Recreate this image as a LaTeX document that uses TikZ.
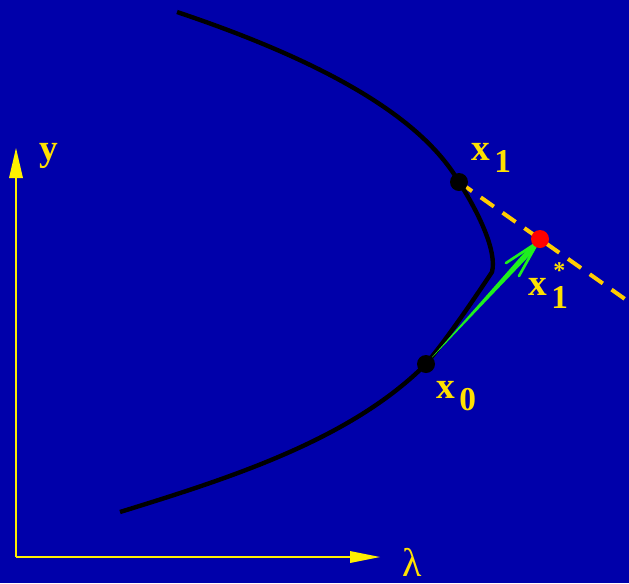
\documentclass[tikz,border=0pt]{standalone}
\usepackage{fontspec}
\setmainfont{Liberation Serif}
\definecolor{bg}{RGB}{0,0,170}
\definecolor{lab}{RGB}{255,225,0}
\definecolor{axiscol}{RGB}{255,240,0}
\definecolor{dashcol}{RGB}{255,204,0}
\definecolor{grn}{RGB}{30,240,30}
\tikzset{
  lbl/.style={text=lab,font=\bfseries\fontsize{28}{32}\selectfont,inner sep=0pt,anchor=base west},
  sublbl/.style={lbl,font=\bfseries\fontsize{25}{30}\selectfont},
  curve/.style={line width=3.3pt,black},
  dot/.style={circle,fill=black,minimum size=13.5pt,inner sep=0pt},
  axisline/.style={axiscol,line width=0.8pt},
}
\begin{document}
\begin{tikzpicture}[x=0.75pt,y=-0.75pt]
\useasboundingbox (0,0) rectangle (629,583);
\fill[bg] (0,0) rectangle (629,583);
% axes
\coordinate (O) at (16,557);
\coordinate (ytip) at (16,148);
\coordinate (ltip) at (380,557);
\draw[axisline] (O) -- (16,176);
\draw[axisline] (O) -- (352,557);
\fill[axiscol] (ytip) -- (9,178) -- (23,178) -- cycle;
\fill[axiscol] (ltip) -- (350,551) -- (350,563) -- cycle;
\node[lbl] (ylab) at (39,160) {y};
\node[text=lab,font=\fontsize{30}{34}\selectfont,inner sep=0pt,anchor=base west] (llab) at (402,576) {λ};
% dashed line
\coordinate (x1) at (459,182);
\coordinate (x1s) at (540,239);
\coordinate (dend) at (632,304);
\draw[dashcol,line width=3pt,dash pattern=on 12pt off 8pt] (x1) -- (dend);
% curve
\draw[curve] (177,12) .. controls (320,60) and (420,115) .. (x1)
  .. controls (480,215) and (497,252) .. (492,272)
  .. controls (480,290) and (450,335) .. (426,364)
  .. controls (350,440) and (230,478) .. (120,512);
% green arrow
\coordinate (x0) at (426,364);
\coordinate (gt) at (538,242);
\fill[grn] (x0) -- (529,247.3) -- (gt) -- (533.4,251.5) -- cycle;
\draw[grn,line width=2pt,line cap=round] (506,263) -- (gt) -- (519,276);
% dots
\node[dot] (p1) at (x1) {};
\node[dot] (p0) at (x0) {};
\node[dot,fill=red] (ps) at (x1s) {};
% labels
\node[lbl] (lx1) at (471,160) {x};
\node[sublbl] (lx1s) at (494,172) {1};
\node[lbl] (lxs) at (528,295) {x};
\node[lbl,font=\bfseries\fontsize{18}{20}\selectfont] (lstar) at (553,278) {*};
\node[sublbl] (lxs1) at (551,308) {1};
\node[lbl] (lx0) at (436,398) {x};
\node[sublbl] (lx01) at (459,410) {0};
\end{tikzpicture}
\end{document}
